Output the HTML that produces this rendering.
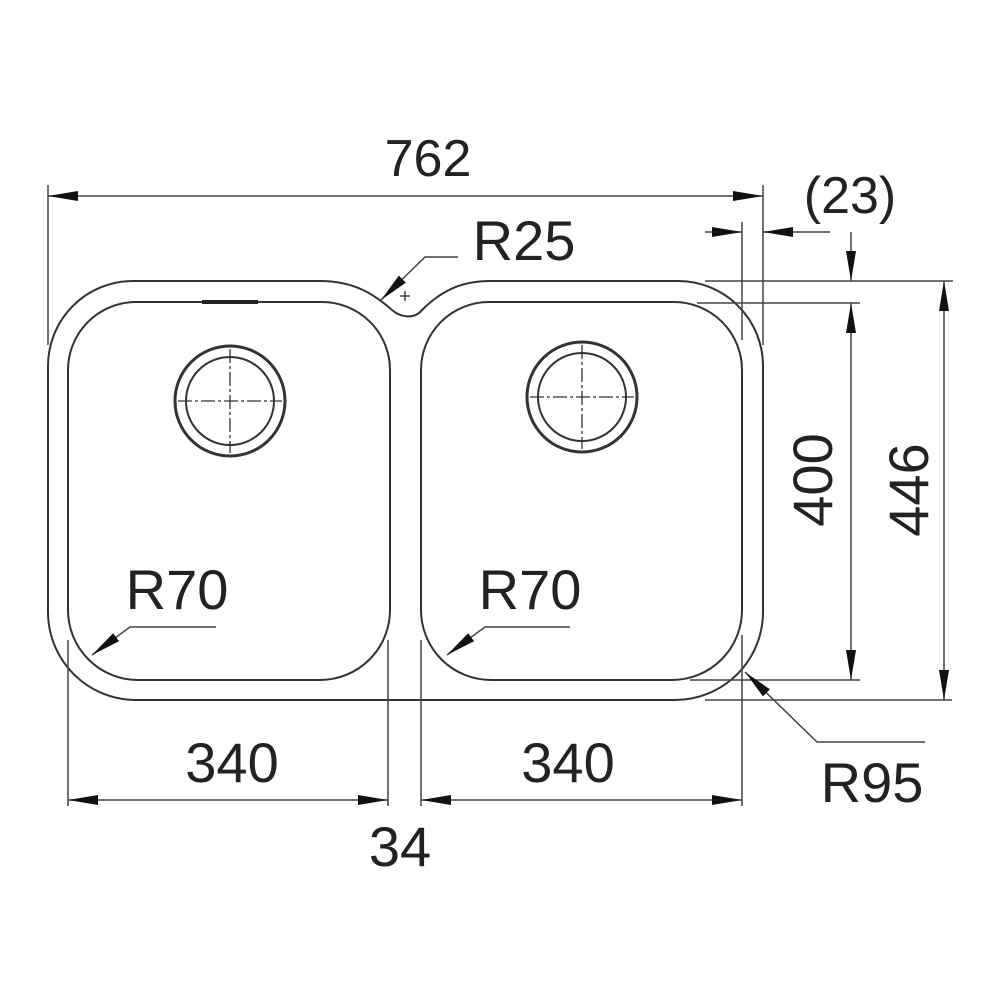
<!DOCTYPE html>
<html><head><style>body{margin:0;background:#fff}svg{display:block}</style></head><body>
<svg width="1000" height="1000" viewBox="0 0 1000 1000" xmlns="http://www.w3.org/2000/svg">
<defs>
<marker id="a" viewBox="0 0 30 10" refX="30" refY="5" markerWidth="30" markerHeight="10" markerUnits="userSpaceOnUse" orient="auto-start-reverse"><path d="M0,0 L30,5 L0,10 Z" fill="#111"/></marker>
</defs>
<g fill="none" stroke="#333" stroke-width="2">
<path d="M48,366 A85,85 0 0 1 133,281 L320,281 C355,281 375,295 392,310 C400,317 414,320 422,310 C440,292 460,281 490,281 L678,281 A85,85 0 0 1 763,366 L763,612 A88,88 0 0 1 675,700 L136,700 A88,88 0 0 1 48,612 Z"/>
<path d="M68,370 A68,68 0 0 1 136,302 L322,302 A68,68 0 0 1 390,370 L390,610 A70,70 0 0 1 320,680 L138,680 A70,70 0 0 1 68,610 Z"/>
<path d="M421,370 A68,68 0 0 1 489,302 L674,302 A68,68 0 0 1 742,370 L742,610 A70,70 0 0 1 672,680 L491,680 A70,70 0 0 1 421,610 Z"/>
<circle cx="230" cy="401" r="55" stroke-width="3"/><circle cx="230" cy="401" r="44"/>
<circle cx="582" cy="397" r="55" stroke-width="3"/><circle cx="582" cy="397" r="44"/>
</g>
<g stroke="#333" stroke-width="1.3" stroke-dasharray="14,3,3,3" fill="none">
<line x1="178" y1="401" x2="282" y2="401"/><line x1="230" y1="349" x2="230" y2="453"/>
<line x1="530" y1="397" x2="634" y2="397"/><line x1="582" y1="345" x2="582" y2="449"/>
</g>
<line x1="202" y1="302" x2="258" y2="302" stroke="#222" stroke-width="4"/>
<g stroke="#444" stroke-width="1.5" fill="none">
<line x1="48" y1="185" x2="48" y2="345"/>
<line x1="763" y1="185" x2="763" y2="345"/>
<line x1="742" y1="222" x2="742" y2="340"/>
<line x1="705" y1="281" x2="953" y2="281"/>
<line x1="697" y1="303" x2="860" y2="303"/>
<line x1="690" y1="680" x2="860" y2="680"/>
<line x1="705" y1="700" x2="952" y2="700"/>
<line x1="68" y1="640" x2="68" y2="806"/>
<line x1="388" y1="640" x2="388" y2="806"/>
<line x1="421" y1="640" x2="421" y2="806"/>
<line x1="742" y1="635" x2="742" y2="806"/>
<line x1="48" y1="196" x2="763" y2="196" marker-start="url(#a)" marker-end="url(#a)"/>
<line x1="705" y1="232" x2="742" y2="232" marker-end="url(#a)"/>
<line x1="830" y1="232" x2="763" y2="232" marker-end="url(#a)"/>
<line x1="851" y1="232" x2="851" y2="281" marker-end="url(#a)"/>
<line x1="851" y1="303" x2="851" y2="680" marker-start="url(#a)" marker-end="url(#a)"/>
<line x1="944" y1="281" x2="944" y2="700" marker-start="url(#a)" marker-end="url(#a)"/>
<line x1="68" y1="800" x2="388" y2="800" marker-start="url(#a)" marker-end="url(#a)"/>
<line x1="421" y1="800" x2="742" y2="800" marker-start="url(#a)" marker-end="url(#a)"/>
<polyline points="458,257 425,257 381,300" marker-end="url(#a)"/>
<polyline points="216,627 130,627 92,655" marker-end="url(#a)"/>
<polyline points="570,627 485,627 447,655" marker-end="url(#a)"/>
<polyline points="925,742 817,742 745,672" marker-end="url(#a)"/>
<line x1="400" y1="296" x2="410" y2="296"/><line x1="405" y1="291" x2="405" y2="301"/>
</g>
<g font-family="Liberation Sans, sans-serif" font-size="56" fill="#222" text-anchor="middle">
<text x="428" y="176" font-size="52">762</text>
<text x="850" y="213" font-size="52">(23)</text>
<text x="524" y="260">R25</text>
<text x="177" y="609">R70</text>
<text x="530" y="609">R70</text>
<text x="232" y="782">340</text>
<text x="568" y="782">340</text>
<text x="400" y="866">34</text>
<text x="872" y="802">R95</text>
<text transform="translate(832,480) rotate(-90)">400</text>
<text transform="translate(928,490) rotate(-90)">446</text>
</g>
</svg>
</body></html>
